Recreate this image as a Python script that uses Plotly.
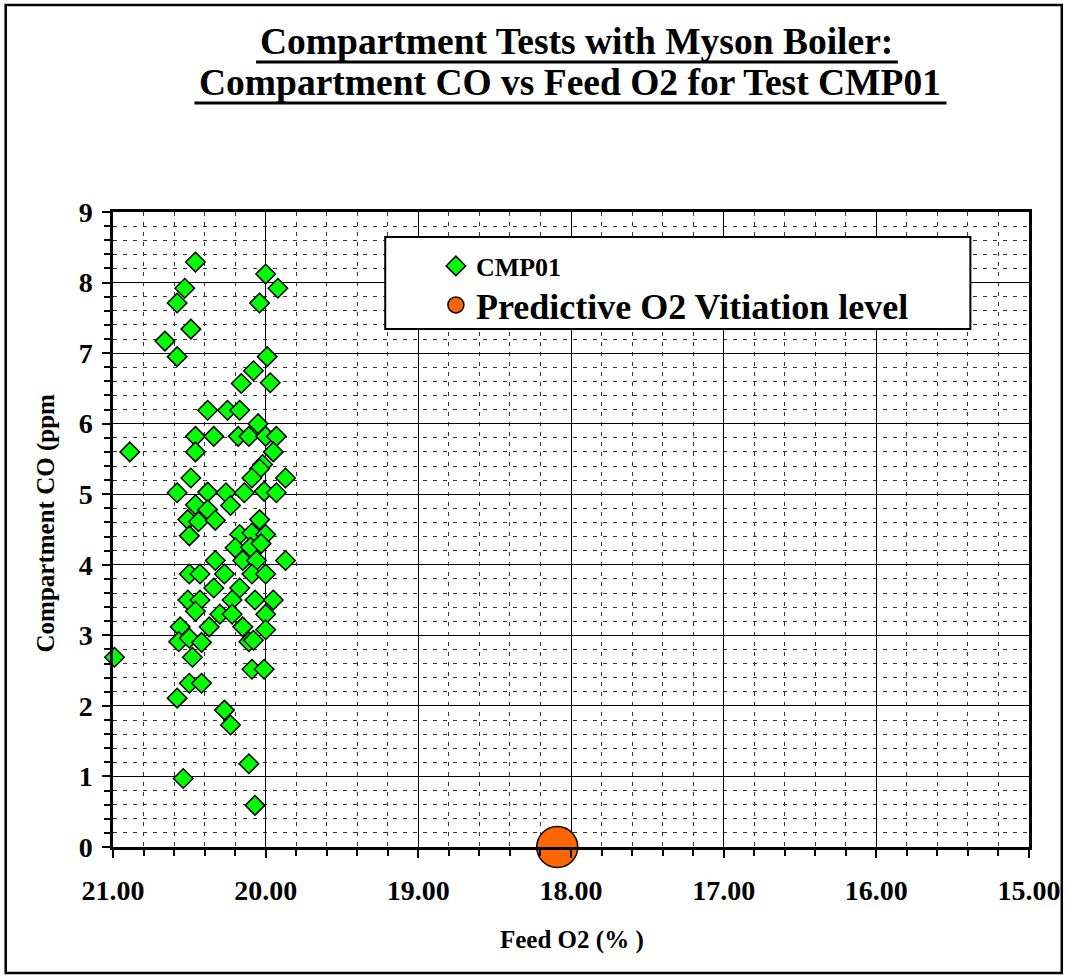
import plotly.graph_objects as go

# ---------------- data ----------------
feed_o2 = [
    20.46, 20.00, 20.53, 19.92, 20.58, 20.04, 20.49, 20.66, 20.58, 19.99,
    20.08, 20.16, 19.97, 20.38, 20.25, 20.17, 20.05,
    20.46, 20.34, 20.18, 20.11, 20.00, 19.93,
    20.89, 20.46, 19.95, 20.02, 20.04, 20.49, 20.09, 19.87,
    20.58, 20.38, 20.26, 20.14, 20.01, 19.93,
    20.46, 20.38, 20.23, 20.51, 20.44, 20.33, 20.04,
    20.50, 20.17, 20.09, 20.00, 20.20, 20.10, 20.03,
    20.33, 20.15, 20.06, 19.87,
    20.50, 20.43, 20.27, 20.09, 20.00,
    20.34, 20.17,
    20.51, 20.43, 20.22, 20.07, 19.95,
    20.46, 20.30, 20.22, 20.00,
    20.56, 20.37, 20.15, 20.00,
    20.57, 20.50, 20.42, 20.11, 20.08,
    20.99, 20.48, 20.09, 20.01,
    20.50, 20.42, 20.58, 20.27, 20.23, 20.11, 20.54, 20.07,
]
comp_co = [
    8.29, 8.12, 7.92, 7.92, 7.71, 7.71, 7.34, 7.17, 6.95, 6.95,
    6.75, 6.57, 6.58, 6.19, 6.19, 6.19, 6.00,
    5.82, 5.82, 5.82, 5.82, 5.82, 5.82,
    5.60, 5.60, 5.60, 5.42, 5.36, 5.23, 5.23, 5.23,
    5.02, 5.03, 5.02, 5.02, 5.04, 5.02,
    4.85, 4.78, 4.84, 4.64, 4.61, 4.63, 4.64,
    4.41, 4.43, 4.45, 4.43, 4.24, 4.25, 4.30,
    4.06, 4.06, 4.06, 4.06,
    3.87, 3.87, 3.87, 3.87, 3.87,
    3.67, 3.67,
    3.50, 3.50, 3.50, 3.50, 3.50,
    3.34, 3.30, 3.30, 3.30,
    3.12, 3.12, 3.12, 3.08,
    2.91, 2.96, 2.90, 2.91, 2.93,
    2.69, 2.69, 2.52, 2.52,
    2.32, 2.32, 2.11, 1.94, 1.73, 1.18, 0.97, 0.59,
]
vitiation_o2 = [18.09]
vitiation_co = [0.0]

x_tick_vals = [21, 20, 19, 18, 17, 16, 15]
y_tick_vals = [0, 1, 2, 3, 4, 5, 6, 7, 8, 9]

# ---------------- layout helpers ----------------
WIDTH, HEIGHT = 1073, 977
L, R, T, B = 113, 1035, 212, 847


def fx(px):
    return (px - L) / (R - L)


def fy(py):
    return (B - py) / (B - T)


SERIF = "Liberation Serif, Times New Roman, serif"

fig = go.Figure()

fig.add_trace(go.Scatter(
    x=feed_o2, y=comp_co, mode="markers", name="CMP01",
    marker=dict(symbol="diamond", size=15, color="#00FF00",
                line=dict(color="black", width=1.5)),
    cliponaxis=False, legend="legend",
))
fig.add_trace(go.Scatter(
    x=vitiation_o2, y=vitiation_co, mode="markers",
    name="Predictive O2 Vitiation level",
    marker=dict(symbol="circle", size=41, color="#FF6600",
                line=dict(color="black", width=1.5)),
    cliponaxis=False, legend="legend2",
))

axis_common = dict(
    showline=True, linecolor="black", linewidth=2.5, mirror=True,
    showgrid=True, gridcolor="black", gridwidth=1.3,
    ticks="outside", ticklen=8, tickcolor="black", tickwidth=2,
    zeroline=False,
    tickfont=dict(family=SERIF, size=28, color="black", weight="bold"),
    minor=dict(dtick=0.2, showgrid=True, gridcolor="#333333", gridwidth=1,
               griddash="4px,6px", ticks="outside", ticklen=6,
               tickcolor="black", tickwidth=1.5),
)

fig.update_xaxes(
    range=[21, 15], tickmode="array", tickvals=x_tick_vals,
    tickformat=".2f", ticklabelstandoff=9, **axis_common,
)
fig.update_yaxes(
    range=[0, 9], tickmode="array", tickvals=y_tick_vals,
    ticklabelstandoff=4, **axis_common,
)

shapes = [
    # outer chart border
    dict(type="rect", xref="paper", yref="paper",
         x0=fx(5), x1=fx(1068), y0=fy(973), y1=fy(5),
         line=dict(color="black", width=2.5), fillcolor="rgba(0,0,0,0)"),
    # title underlines
    dict(type="line", xref="paper", yref="paper",
         x0=fx(257), x1=fx(903), y0=fy(62), y1=fy(62),
         line=dict(color="black", width=3)),
    dict(type="line", xref="paper", yref="paper",
         x0=fx(195), x1=fx(952), y0=fy(103), y1=fy(103),
         line=dict(color="black", width=3)),
    # legend box
    dict(type="rect", xref="paper", yref="paper", layer="above",
         x0=fx(387), x1=fx(976), y0=fy(329), y1=fy(237),
         line=dict(color="black", width=2), fillcolor="white"),
]

annotations = [
    dict(text="Compartment Tests with Myson Boiler:", xref="paper", yref="paper",
         x=fx(580), y=fy(41), showarrow=False, xanchor="center", yanchor="middle",
         font=dict(family=SERIF, size=37.5, color="black", weight="bold")),
    dict(text="Compartment CO vs Feed O2 for Test CMP01", xref="paper", yref="paper",
         x=fx(573), y=fy(83), showarrow=False, xanchor="center", yanchor="middle",
         font=dict(family=SERIF, size=37.5, color="black", weight="bold")),
    dict(text="Compartment CO (ppm", xref="paper", yref="paper",
         x=fx(46), y=fy(523), showarrow=False, textangle=-90,
         xanchor="center", yanchor="middle",
         font=dict(family=SERIF, size=25, color="black", weight="bold")),
    dict(text="Feed O2 (% )", xref="paper", yref="paper",
         x=fx(575), y=fy(940), showarrow=False, xanchor="center", yanchor="middle",
         font=dict(family=SERIF, size=25, color="black", weight="bold")),
]

fig.update_layout(
    width=WIDTH, height=HEIGHT,
    margin=dict(l=L, r=WIDTH - R, t=T, b=HEIGHT - B, pad=0),
    paper_bgcolor="white", plot_bgcolor="white",
    shapes=shapes, annotations=annotations,
    showlegend=True,
    legend=dict(x=fx(438), y=fy(266), xanchor="left", yanchor="middle",
                bgcolor="rgba(0,0,0,0)", borderwidth=0,
                font=dict(family=SERIF, size=26, color="black", weight="bold")),
    legend2=dict(x=fx(438), y=fy(305), xanchor="left", yanchor="middle",
                 bgcolor="rgba(0,0,0,0)", borderwidth=0,
                 font=dict(family=SERIF, size=36, color="black", weight="bold")),
)

fig.write_html("out.html")
